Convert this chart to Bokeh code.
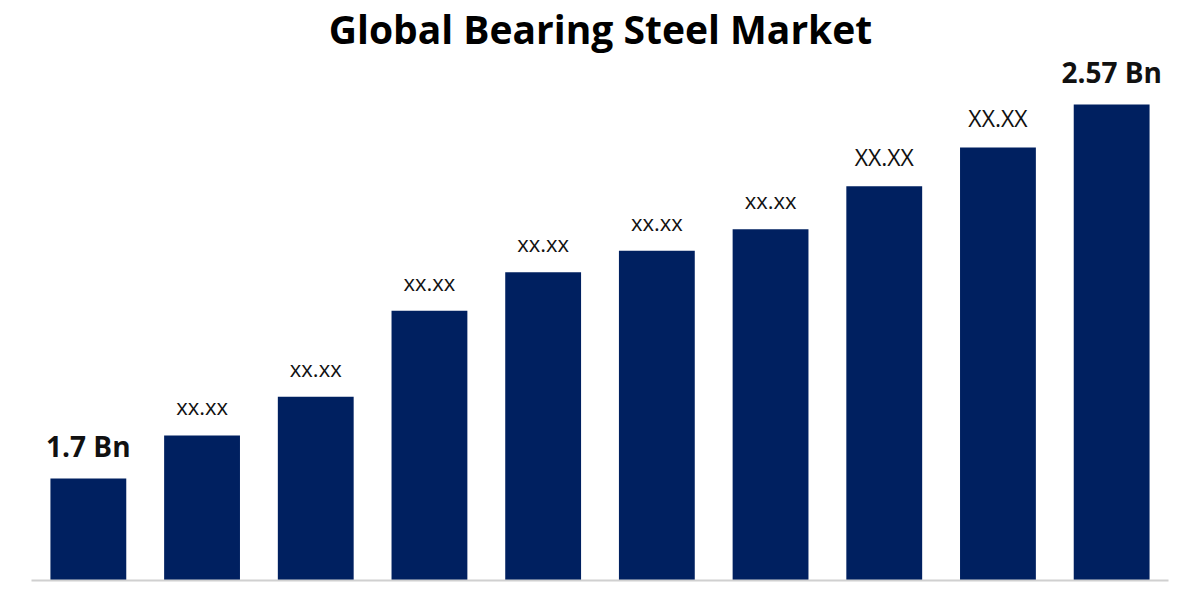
from bokeh.plotting import figure
from bokeh.models import ColumnDataSource, LabelSet, Label
from bokeh.core.properties import value
from bokeh.embed import file_html
from bokeh.resources import INLINE

title = "Global Bearing Steel Market"
years = ["2023", "2024", "2025", "2026", "2027", "2028", "2029", "2030", "2031", "2032"]
values = [1.70, 1.80, 1.89, 2.09, 2.18, 2.23, 2.28, 2.38, 2.47, 2.57]
labels = ["1.7 Bn", "xx.xx", "xx.xx", "xx.xx", "xx.xx", "xx.xx", "xx.xx", "XX.XX", "XX.XX", "2.57 Bn"]
base = 1.4627

W, H = 1184, 584
px_per_unit = 429.9
cat_px = 113.7
y_start = base - 4 / px_per_unit
y_end = y_start + H / px_per_unit
x_start = -0.5 - 31 / cat_px
x_end = x_start + W / cat_px

xs = list(range(len(years)))
bold_idx = [0, len(years) - 1]
src_bold = ColumnDataSource(dict(x=[xs[i] for i in bold_idx], y=[values[i] for i in bold_idx],
                                 t=[labels[i] for i in bold_idx]))
other = [i for i in xs if i not in bold_idx]
src_norm = ColumnDataSource(dict(x=[xs[i] for i in other], y=[values[i] for i in other],
                                 t=[labels[i] for i in other],
                                 fs=["23px" if labels[i].isupper() else "22px" for i in other]))
src = ColumnDataSource(dict(x=xs, top=values, year=years))

p = figure(width=W, height=H, x_range=(x_start, x_end), y_range=(y_start, y_end),
           output_backend="svg", toolbar_location=None, min_border=0)
p.axis.visible = False
p.grid.visible = False
p.outline_line_color = None
p.background_fill_color = "white"
p.border_fill_color = "white"

p.vbar(x="x", top="top", bottom=base, width=0.667, source=src,
       fill_color="#002060", line_color=None)

# baseline axis line
p.segment(x0=[-0.5], x1=[len(years) - 0.5], y0=[base], y1=[base],
          line_color="#d0d0d0", line_width=2)

p.add_layout(LabelSet(x="x", y="y", text="t", source=src_bold, text_align="center",
                      text_baseline="alphabetic", y_offset=21,
                      text_font=value("Open Sans"), text_font_style="bold",
                      text_font_size="28px", text_color="#111111"))
p.add_layout(LabelSet(x="x", y="y", text="t", source=src_norm, text_align="center",
                      text_baseline="alphabetic", y_offset=20,
                      text_font=value("Open Sans"), text_font_size="fs",
                      text_color="#111111"))

p.add_layout(Label(x=W / 2 + 8, y=H - 1, x_units="screen", y_units="screen", text=title,
                   text_align="center", text_baseline="top",
                   text_font="Open Sans", text_font_style="bold",
                   text_font_size="39px", text_color="#000000"))

open("out.html", "w").write(file_html(p, INLINE))
